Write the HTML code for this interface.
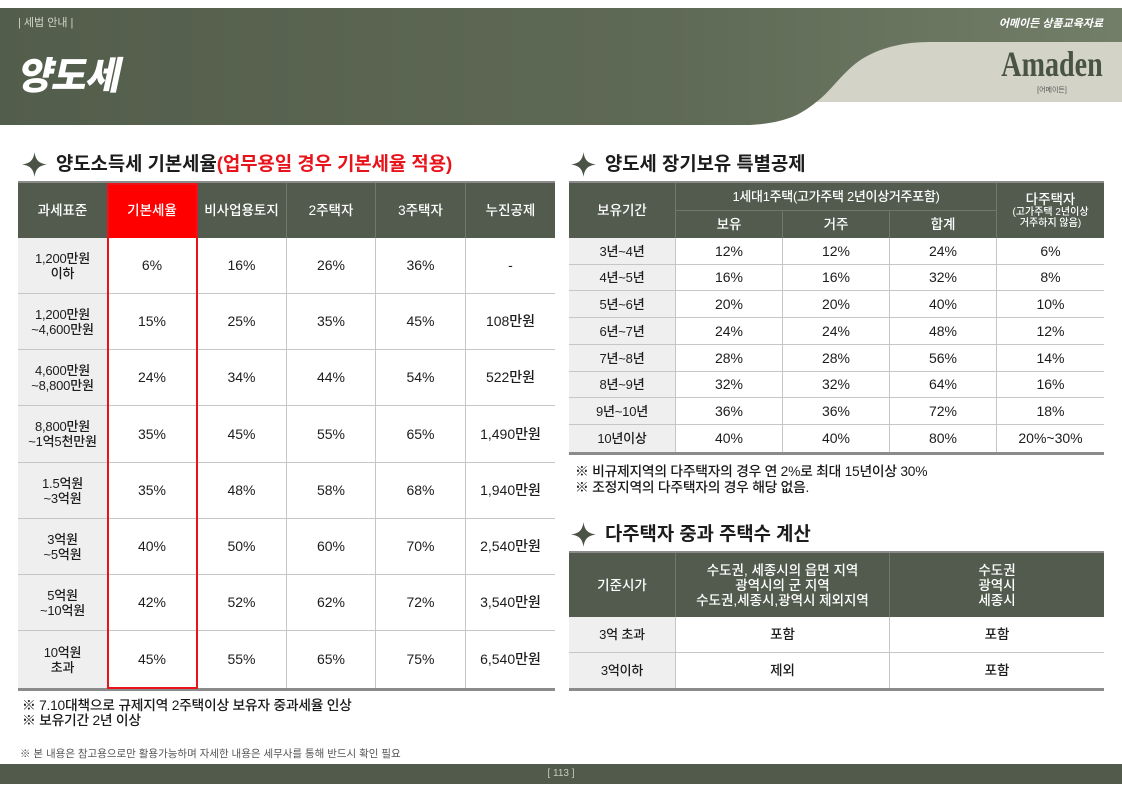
<!DOCTYPE html>
<html><head><meta charset="utf-8">
<style>
*{margin:0;padding:0;box-sizing:border-box}
body{width:1122px;height:793px;position:relative;background:#fff;font-family:"Liberation Sans","Noto Sans CJK KR",sans-serif;color:#1c1c1c;overflow:hidden}
.a{position:absolute;white-space:nowrap}
.grid{position:absolute;display:grid;border-top:2px solid #8b8b8b;border-bottom:3px solid #8b8b8b}
.grid>div{display:flex;align-items:center;justify-content:center;text-align:center;border-right:1px solid #c6c6c6;border-bottom:1px solid #c6c6c6;font-size:14px;font-weight:500;line-height:15px}
.grid>div.h{background:#525b4d;color:#fff;font-size:13.5px;border-right:1px solid #6f786a;border-bottom:none}
.grid>div.f{background:#efefef;font-size:13px;letter-spacing:-0.2px}
.grid>div.l{border-right:none}
.grid>div.nb{border-bottom:none}
.title{position:absolute;font-size:18.8px;font-weight:700;line-height:22px;color:#1c1c1c;white-space:nowrap}
.note{position:absolute;font-size:13.8px;font-weight:500;line-height:15px;letter-spacing:-0.25px;white-space:nowrap;color:#1a1a1a}
</style></head><body>

<svg class="a" style="left:0;top:0" width="1122" height="130">
<defs><linearGradient id="g" x1="0" x2="1" y1="0" y2="0">
<stop offset="0" stop-color="#535d4b"/><stop offset="0.6" stop-color="#5f6a56"/><stop offset="1" stop-color="#727e68"/></linearGradient></defs>
<rect x="770" y="42" width="352" height="60" fill="#d3d3c8"/>
<path d="M0,8 H1122 V42 H930 C895,42 870,52 855,64 C838,78 830,92 815,103 C800,115 785,123 750,125 H0 Z" fill="url(#g)"/>
</svg>

<div class="a" style="left:18px;top:16px;font-size:11px;line-height:14px;color:#d2d6cb">| 세법 안내 |</div>
<div class="a" style="left:20px;top:50px;font-size:38px;line-height:46px;font-weight:900;color:#fff;transform:skewX(-12deg);letter-spacing:-1px;font-family:'Noto Sans CJK KR',sans-serif">양도세</div>
<div class="a" style="right:19px;top:17px;font-size:11px;line-height:14px;font-weight:700;font-style:italic;color:#fff">어메이든 상품교육자료</div>
<div class="a" style="left:982px;top:44px;width:140px;text-align:center;font-family:'Liberation Serif',serif;font-weight:700;font-size:36px;line-height:40px;color:#4a5444;transform:scaleX(0.78);transform-origin:center">Amaden</div>
<div class="a" style="left:1036px;top:86px;width:32px;text-align:center;font-size:7px;line-height:9px;color:#555">[어메이든]</div>

<!-- section titles -->
<svg class="a" style="left:22px;top:152px" width="25" height="25" viewBox="0 0 25 25"><path d="M12.5,0 C13.5,8 17,11.5 25,12.5 C17,13.5 13.5,17 12.5,25 C11.5,17 8,13.5 0,12.5 C8,11.5 11.5,8 12.5,0Z" fill="#4a5346"/></svg>
<div class="title" style="left:56px;top:153px">양도소득세 기본세율<span style="color:#e8141b">(업무용일 경우 기본세율 적용)</span></div>

<svg class="a" style="left:571px;top:152px" width="25" height="25" viewBox="0 0 25 25"><path d="M12.5,0 C13.5,8 17,11.5 25,12.5 C17,13.5 13.5,17 12.5,25 C11.5,17 8,13.5 0,12.5 C8,11.5 11.5,8 12.5,0Z" fill="#4a5346"/></svg>
<div class="title" style="left:605px;top:153px">양도세 장기보유 특별공제</div>

<svg class="a" style="left:571px;top:522px" width="25" height="25" viewBox="0 0 25 25"><path d="M12.5,0 C13.5,8 17,11.5 25,12.5 C17,13.5 13.5,17 12.5,25 C11.5,17 8,13.5 0,12.5 C8,11.5 11.5,8 12.5,0Z" fill="#4a5346"/></svg>
<div class="title" style="left:605px;top:523px">다주택자 중과 주택수 계산</div>

<!-- left table -->
<div class="grid" style="left:18px;top:181px;width:537px;grid-template-columns:90px 89px 90px 89px 90px 89px;grid-template-rows:55px 56px 56px 56px 57px 56px 56px 56px 57px">
<div class="h">과세표준</div><div class="h" style="background:#ff0000">기본세율</div><div class="h">비사업용토지</div><div class="h">2주택자</div><div class="h">3주택자</div><div class="h l">누진공제</div>
<div class="f">1,200만원<br>이하</div><div>6%</div><div>16%</div><div>26%</div><div>36%</div><div class="l">-</div>
<div class="f">1,200만원<br>~4,600만원</div><div>15%</div><div>25%</div><div>35%</div><div>45%</div><div class="l">108만원</div>
<div class="f">4,600만원<br>~8,800만원</div><div>24%</div><div>34%</div><div>44%</div><div>54%</div><div class="l">522만원</div>
<div class="f">8,800만원<br>~1억5천만원</div><div>35%</div><div>45%</div><div>55%</div><div>65%</div><div class="l">1,490만원</div>
<div class="f">1.5억원<br>~3억원</div><div>35%</div><div>48%</div><div>58%</div><div>68%</div><div class="l">1,940만원</div>
<div class="f">3억원<br>~5억원</div><div>40%</div><div>50%</div><div>60%</div><div>70%</div><div class="l">2,540만원</div>
<div class="f">5억원<br>~10억원</div><div>42%</div><div>52%</div><div>62%</div><div>72%</div><div class="l">3,540만원</div>
<div class="f nb">10억원<br>초과</div><div class="nb">45%</div><div class="nb">55%</div><div class="nb">65%</div><div class="nb">75%</div><div class="l nb">6,540만원</div>
</div>
<div class="a" style="left:107px;top:183px;width:91px;height:506px;border:2px solid #e8141b"></div>

<div class="note" style="left:22px;top:698px">※ 7.10대책으로 규제지역 2주택이상 보유자 중과세율 인상</div>
<div class="note" style="left:22px;top:713px">※ 보유기간 2년 이상</div>

<!-- right table 1 -->
<div class="grid" style="left:569px;top:181px;width:535px;grid-template-columns:107px 107px 107px 107px 107px;grid-template-rows:27px 28px 27px 26px 27px 27px 27px 26px 27px 27px">
<div class="h" style="grid-row:1/3;grid-column:1/2">보유기간</div>
<div class="h" style="grid-row:1/2;grid-column:2/5;letter-spacing:-0.3px;font-size:13px">1세대1주택(고가주택 2년이상거주포함)</div>
<div class="h l" style="grid-row:1/3;grid-column:5/6;flex-direction:column;line-height:11px"><span style="font-size:13.5px;line-height:15px">다주택자</span><span style="font-size:10px">(고가주택 2년이상</span><span style="font-size:10px">거주하지 않음)</span></div>
<div class="h" style="grid-row:2/3;grid-column:2/3;border-top:1px solid #6f786a">보유</div>
<div class="h" style="grid-row:2/3;grid-column:3/4;border-top:1px solid #6f786a">거주</div>
<div class="h" style="grid-row:2/3;grid-column:4/5;border-top:1px solid #6f786a">합계</div>
<div class="f">3년~4년</div><div>12%</div><div>12%</div><div>24%</div><div class="l">6%</div>
<div class="f">4년~5년</div><div>16%</div><div>16%</div><div>32%</div><div class="l">8%</div>
<div class="f">5년~6년</div><div>20%</div><div>20%</div><div>40%</div><div class="l">10%</div>
<div class="f">6년~7년</div><div>24%</div><div>24%</div><div>48%</div><div class="l">12%</div>
<div class="f">7년~8년</div><div>28%</div><div>28%</div><div>56%</div><div class="l">14%</div>
<div class="f">8년~9년</div><div>32%</div><div>32%</div><div>64%</div><div class="l">16%</div>
<div class="f">9년~10년</div><div>36%</div><div>36%</div><div>72%</div><div class="l">18%</div>
<div class="f nb">10년이상</div><div class="nb">40%</div><div class="nb">40%</div><div class="nb">80%</div><div class="l nb">20%~30%</div>
</div>

<div class="note" style="left:575px;top:464px">※ 비규제지역의 다주택자의 경우 연 2%로 최대 15년이상 30%</div>
<div class="note" style="left:575px;top:480px">※ 조정지역의 다주택자의 경우 해당 없음.</div>

<!-- right table 2 -->
<div class="grid" style="left:569px;top:551px;width:535px;grid-template-columns:107px 214px 214px;grid-template-rows:64px 36px 35px">
<div class="h">기준시가</div>
<div class="h">수도권, 세종시의 읍면 지역<br>광역시의 군 지역<br>수도권,세종시,광역시 제외지역</div>
<div class="h l">수도권<br>광역시<br>세종시</div>
<div class="f">3억 초과</div><div style="font-size:13.5px">포함</div><div class="l" style="font-size:13.5px">포함</div>
<div class="f nb">3억이하</div><div class="nb" style="font-size:13.5px">제외</div><div class="l nb" style="font-size:13.5px">포함</div>
</div>

<div class="a" style="left:20px;top:748px;font-size:10.5px;line-height:13px;color:#555">※ 본 내용은 참고용으로만 활용가능하며 자세한 내용은 세무사를 통해 반드시 확인 필요</div>
<div class="a" style="left:0;top:764px;width:1122px;height:20px;background:#515a4b"></div>
<div class="a" style="left:531px;top:767px;width:60px;text-align:center;font-size:10px;line-height:14px;color:#c8ccc0">[ 113 ]</div>

</body></html>
